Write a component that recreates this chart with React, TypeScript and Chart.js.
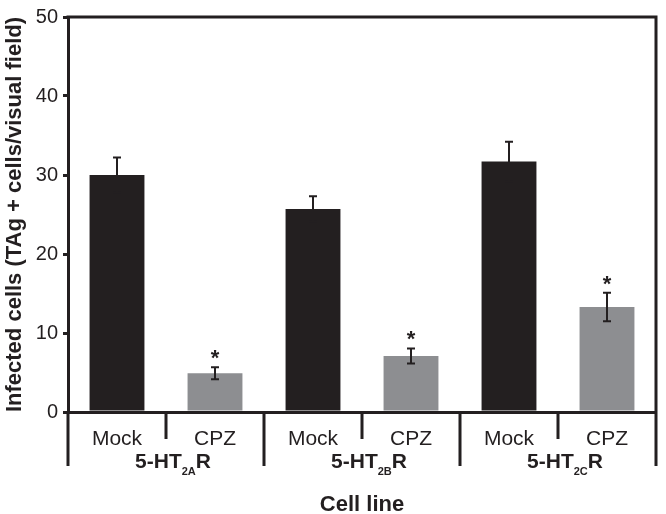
import React, { useEffect, useRef } from "react";
import { Chart, registerables } from "chart.js";

Chart.register(...registerables);

// ---- data ----
const categories = ["Mock", "CPZ", "Mock", "CPZ", "Mock", "CPZ"];
const values = [30.0, 4.9, 25.7, 7.1, 31.7, 13.3];
const errors = [2.2, 0.75, 1.6, 0.95, 2.5, 1.8];
const significant = [false, true, false, true, false, true];
const groupMain = ["5-HT", "5-HT", "5-HT"];
const groupSub = ["2A", "2B", "2C"];
const groupTail = ["R", "R", "R"];
const yTicks = [0, 10, 20, 30, 40, 50];
const barColors = ["#231f20", "#8d8e91", "#231f20", "#8d8e91", "#231f20", "#8d8e91"];
const yTitle = "Infected cells (TAg + cells/visual field)";
const xTitle = "Cell line";

const INK = "#231f20";
const FONT = "'Liberation Sans', Arial, Helvetica, sans-serif";

const decorPlugin = {
  id: "decor",
  afterDatasetsDraw(chart: any) {
    const ctx = chart.ctx as CanvasRenderingContext2D;
    const x = chart.scales.x;
    const y = chart.scales.y;
    const { left, right, top, bottom } = chart.chartArea;
    ctx.save();
    ctx.strokeStyle = INK;
    ctx.fillStyle = INK;

    // error bars + asterisks
    ctx.lineWidth = 2;
    values.forEach((v, i) => {
      const px = x.getPixelForValue(i);
      const t = y.getPixelForValue(v + errors[i]);
      const b = y.getPixelForValue(v - errors[i]);
      ctx.beginPath();
      ctx.moveTo(px, t);
      ctx.lineTo(px, b);
      ctx.moveTo(px - 4, t);
      ctx.lineTo(px + 4, t);
      ctx.moveTo(px - 4, b);
      ctx.lineTo(px + 4, b);
      ctx.stroke();
      if (significant[i]) {
        ctx.font = `bold 22px ${FONT}`;
        ctx.textAlign = "center";
        ctx.textBaseline = "alphabetic";
        ctx.fillText("*", px, t - 2);
      }
    });

    // frame and separators
    const step = x.getPixelForValue(1) - x.getPixelForValue(0);
    const longEnd = bottom + 54;
    const shortEnd = bottom + 27;
    ctx.lineWidth = 3;
    ctx.beginPath();
    ctx.moveTo(left - 1.5, top);
    ctx.lineTo(right, top);
    ctx.lineTo(right, longEnd);
    ctx.moveTo(left, bottom);
    ctx.lineTo(left, longEnd);
    for (let k = 1; k < categories.length; k++) {
      const bx = x.getPixelForValue(0) - step / 2 + k * step;
      ctx.moveTo(bx, bottom);
      ctx.lineTo(bx, k % 2 === 0 ? longEnd : shortEnd);
    }
    ctx.stroke();

    // group labels with subscripts
    const mainFont = `bold 21px ${FONT}`;
    const subFont = `bold 11px ${FONT}`;
    const baseY = bottom + 56;
    groupMain.forEach((m, g) => {
      const cx = (x.getPixelForValue(2 * g) + x.getPixelForValue(2 * g + 1)) / 2;
      ctx.font = mainFont;
      const wm = ctx.measureText(m).width;
      const wt = ctx.measureText(groupTail[g]).width;
      ctx.font = subFont;
      const ws = ctx.measureText(groupSub[g]).width;
      let sx = cx - (wm + wt) / 2;
      ctx.textAlign = "left";
      ctx.textBaseline = "alphabetic";
      ctx.font = mainFont;
      ctx.fillText(m, sx, baseY);
      sx += wm;
      ctx.font = subFont;
      ctx.fillText(groupSub[g], sx, baseY + 7);
      sx += ws;
      ctx.font = mainFont;
      ctx.fillText(groupTail[g], sx, baseY);
    });
    ctx.restore();
  },
};

export default function App() {
  const ref = useRef<HTMLCanvasElement>(null);
  useEffect(() => {
    const chart = new Chart(ref.current as HTMLCanvasElement, {
      type: "bar",
      data: {
        labels: categories,
        datasets: [
          {
            data: values,
            backgroundColor: barColors,
            borderWidth: 0,
            barPercentage: 0.56,
            categoryPercentage: 1.0,
          },
        ],
      },
      options: {
        animation: false,
        responsive: false,
        devicePixelRatio: 1,
        layout: { padding: { top: 15, right: 10, left: 0, bottom: 0 } },
        plugins: { legend: { display: false }, tooltip: { enabled: false } },
        scales: {
          x: {
            grid: { display: false },
            border: { display: true, color: INK, width: 3 },
            ticks: {
              color: INK,
              font: { family: FONT, size: 21 },
              padding: 7,
              maxRotation: 0,
              autoSkip: false,
            },
            title: {
              display: true,
              text: xTitle,
              color: INK,
              font: { family: FONT, size: 22, weight: "bold", lineHeight: 1 },
              padding: { top: 0, bottom: -2 },
            },
            afterFit: (s: any) => {
              s.height = 102;
            },
          },
          y: {
            min: 0,
            max: 50,
            afterBuildTicks: (s: any) => {
              s.ticks = yTicks.map((v) => ({ value: v }));
            },
            grid: {
              display: true,
              drawOnChartArea: false,
              drawTicks: true,
              tickLength: 5,
              tickWidth: 3,
              color: INK,
              lineWidth: 3,
            },
            border: { display: true, color: INK, width: 3 },
            ticks: { color: INK, font: { family: FONT, size: 20 }, padding: 5 },
            title: {
              display: true,
              text: yTitle,
              color: INK,
              font: { family: FONT, size: 22, weight: "bold", lineHeight: 1 },
              padding: { top: 4, bottom: 0 },
            },
            afterFit: (s: any) => {
              s.width = 68;
            },
          },
        },
      } as any,
      plugins: [decorPlugin],
    });
    return () => chart.destroy();
  }, []);
  return (
    <div style={{ position: "fixed", left: 0, top: 0, width: 666, height: 514, background: "#fff" }}>
      <canvas ref={ref} width={666} height={514} style={{ display: "block" }} />
    </div>
  );
}
